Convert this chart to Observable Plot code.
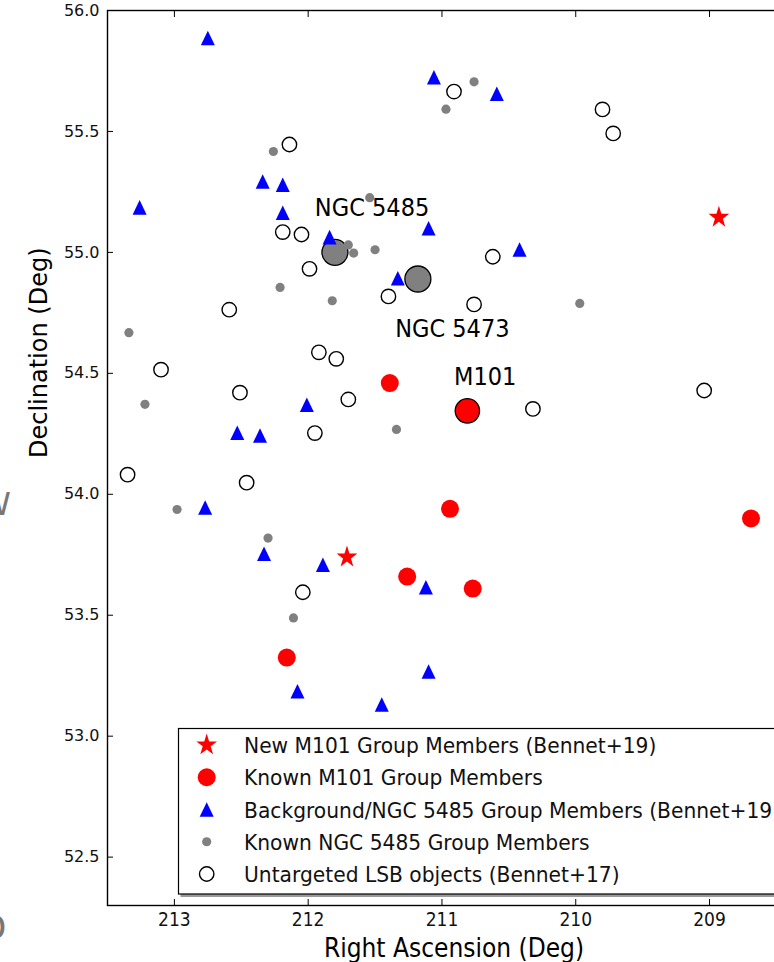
<!DOCTYPE html>
<html><head><meta charset="utf-8">
<script src="https://cdn.jsdelivr.net/npm/d3@7"></script>
<script src="https://cdn.jsdelivr.net/npm/@observablehq/plot@0.6"></script>
<style>
html,body{margin:0;padding:0;background:#fff;overflow:hidden;width:774px;height:962px;}
#wrap{position:relative;width:774px;height:962px;overflow:hidden;}
</style></head><body><div id="wrap"></div>
<script>
// ---- data: [Right Ascension (deg), Declination (deg)] ----
const newM101 = [[208.93, 55.145], [211.71, 53.74]];
const knownM101 = [[211.39, 54.46], [210.94, 53.94], [211.26, 53.66], [210.77, 53.61], [212.16, 53.325], [208.69, 53.90]];
const m101Host = [[210.81, 54.345]];
const ngcHosts = [[211.80, 55.00], [211.18, 54.89]];
const background = [
  [212.75, 55.886], [213.26, 55.186], [212.34, 55.293], [212.19, 55.28], [212.19, 55.164],
  [211.84, 55.063], [211.10, 55.10], [211.06, 55.724], [210.59, 55.656], [210.42, 55.012],
  [211.33, 54.893], [212.01, 54.37], [212.53, 54.254], [212.36, 54.243], [212.77, 53.945],
  [212.33, 53.754], [211.89, 53.709], [211.12, 53.616], [211.10, 53.267], [212.08, 53.186],
  [211.45, 53.131]
];
const knownNGC5485 = [
  [210.76, 55.705], [210.97, 55.592], [212.26, 55.417], [211.54, 55.226], [211.70, 55.031],
  [211.66, 54.997], [211.50, 55.011], [212.21, 54.855], [211.82, 54.80], [209.97, 54.789],
  [213.34, 54.668], [213.22, 54.372], [211.34, 54.268], [212.98, 53.937], [212.30, 53.819],
  [212.11, 53.489]
];
const lsb = [
  [210.91, 55.665], [209.80, 55.591], [209.72, 55.492], [212.14, 55.446], [212.19, 55.084],
  [212.05, 55.074], [211.99, 54.932], [210.62, 54.982], [211.40, 54.818], [210.76, 54.785],
  [212.59, 54.763], [211.92, 54.587], [211.79, 54.56], [213.10, 54.515], [212.51, 54.42],
  [211.70, 54.392], [211.95, 54.253], [213.35, 54.081], [212.46, 54.048], [210.32, 54.353],
  [209.04, 54.429], [212.04, 53.595]
];
const annoText = ["NGC 5485", "NGC 5473", "M101"];
const annoRA = [211.95, 211.35, 210.91];
const annoDec = [55.15, 54.65, 54.45];
const xTicks = [213, 212, 211, 210, 209];
const yTicks = [52.5, 53.0, 53.5, 54.0, 54.5, 55.0, 55.5, 56.0];
const legendLabels = [
  "New M101 Group Members (Bennet+19)",
  "Known M101 Group Members",
  "Background/NGC 5485 Group Members (Bennet+19)",
  "Known NGC 5485 Group Members",
  "Untargeted LSB objects (Bennet+17)"
];

// ---- matplotlib-like marker shapes ----
const mplTriangle = {draw(ctx, size) {
  const h = Math.sqrt(size / Math.PI);
  ctx.moveTo(0, -h * 1.04); ctx.lineTo(h, h * 1.04); ctx.lineTo(-h, h * 1.04); ctx.closePath();
}};
const mplStar = {draw(ctx, size) {
  const R = Math.sqrt(size / Math.PI), r = R * 0.381966;
  for (let i = 0; i < 10; i++) {
    const a = -Math.PI / 2 + i * Math.PI / 5, rr = i % 2 ? r : R;
    const px = rr * Math.cos(a), py = rr * Math.sin(a) * 1.06;
    if (i) ctx.lineTo(px, py); else ctx.moveTo(px, py);
  }
  ctx.closePath();
}};

const X = d => d[0], Y = d => d[1];
const font = "'DejaVu Sans', 'Liberation Sans', sans-serif";
const blank = () => "";

const svg = Plot.plot({
  width: 800, height: 962,
  marginLeft: 107, marginTop: 10, marginBottom: 57, marginRight: 0,
  style: {fontFamily: font, background: "white", color: "#111", maxWidth: "none"},
  x: {domain: [213.5, 208.32], axis: null},
  y: {domain: [52.3, 56.0], axis: null},
  marks: [
    Plot.dot(ngcHosts, {x: X, y: Y, r: 13, fill: "#808080", stroke: "#000", strokeWidth: 1.3}),
    Plot.dot(m101Host, {x: X, y: Y, r: 12.2, fill: "#ff0000", stroke: "#000", strokeWidth: 1.3}),
    Plot.dot(knownM101, {x: X, y: Y, r: 9, fill: "#ff0000"}),
    Plot.dot(background, {x: X, y: Y, r: 7, fill: "#0000ff", symbol: mplTriangle}),
    Plot.dot(knownNGC5485, {x: X, y: Y, r: 4.6, fill: "#808080"}),
    Plot.dot(lsb, {x: X, y: Y, r: 7.2, fill: "none", stroke: "#000", strokeWidth: 1.4}),
    Plot.dot(newM101, {x: X, y: Y, r: 10.9, fill: "#ff0000", symbol: mplStar}),
    Plot.text(annoText, {x: (d, i) => annoRA[i], y: (d, i) => annoDec[i], text: d => d,
      textAnchor: "start", lineAnchor: "bottom", fontSize: 25, fill: "#000"}),
    Plot.frame({stroke: "#000", strokeWidth: 1.4}),
    Plot.axisX(xTicks, {anchor: "bottom", tickSize: -6, tickFormat: blank, label: null, stroke: "#000"}),
    Plot.axisX(xTicks, {anchor: "top", tickSize: -6, tickFormat: blank, label: null, stroke: "#000"}),
    Plot.axisX(xTicks, {anchor: "bottom", tickSize: 0, tickPadding: 7, fontSize: 19, label: null,
      tickFormat: d3.format("d"), fill: "#111"}),
    Plot.axisY(yTicks, {anchor: "left", tickSize: -6, tickFormat: blank, label: null, stroke: "#000"}),
    Plot.axisY(yTicks, {anchor: "left", tickSize: 0, tickPadding: 8, fontSize: 16, label: null,
      tickFormat: d3.format(".1f"), fill: "#111"}),
    Plot.text(["Right Ascension (Deg)"], {text: d => d, frameAnchor: "bottom", dy: 51.7,
      lineAnchor: "bottom", fontSize: 26, fill: "#000"}),
    Plot.text(["Declination (Deg)"], {text: d => d, frameAnchor: "left", rotate: -90, dx: -60.5,
      lineAnchor: "bottom", fontSize: 24, fill: "#000"})
  ]
});
document.getElementById("wrap").appendChild(svg);

const s = d3.select(svg);
function condense(sel, f) {
  sel.each(function () {
    const w = this.getComputedTextLength();
    if (!w) return;
    this.setAttribute("textLength", (w * f).toFixed(2));
    this.setAttribute("lengthAdjust", "spacingAndGlyphs");
  });
}
// horizontal texts look slightly condensed in the reference
s.selectAll("text").filter(function () {
  const t = this.getAttribute("transform") || "";
  const g = this.closest("g");
  const lab = g ? (g.getAttribute("aria-label") || "") : "";
  return !t.includes("rotate") && lab !== "y-axis tick label";
}).call(condense, 0.9);

// legend (lower right, with shadow)
const lg = s.append("g").attr("font-family", font).attr("text-anchor", "start");
lg.append("rect").attr("x", 180.5).attr("y", 731.5).attr("width", 620).attr("height", 165.5).attr("fill", "#9a9a9a");
lg.append("rect").attr("x", 178.5).attr("y", 728.5).attr("width", 620).attr("height", 165.5)
  .attr("fill", "#fff").attr("stroke", "#000").attr("stroke-width", 1.2);
const legendStyles = [
  {type: mplStar, r: 10.9, fill: "#ff0000", stroke: "none"},
  {type: d3.symbolCircle, r: 9, fill: "#ff0000", stroke: "none"},
  {type: mplTriangle, r: 7, fill: "#0000ff", stroke: "none"},
  {type: d3.symbolCircle, r: 4.6, fill: "#808080", stroke: "none"},
  {type: d3.symbolCircle, r: 7.2, fill: "none", stroke: "#000"}
];
legendLabels.forEach((lab, i) => {
  const cy = 745 + i * 32.25, st = legendStyles[i];
  lg.append("path").attr("transform", `translate(206.7,${cy})`)
    .attr("d", d3.symbol(st.type, Math.PI * st.r * st.r)())
    .attr("fill", st.fill).attr("stroke", st.stroke).attr("stroke-width", 1.4);
  lg.append("text").attr("x", 244).attr("y", cy + 8).attr("text-anchor", "start")
    .attr("font-size", 22).attr("fill", "#111").text(lab);
});
condense(lg.selectAll("text"), 0.92);

// fragments of neighbouring panel text visible at the left edge
s.append("text").attr("x", 11).attr("y", 515).attr("text-anchor", "end").attr("font-size", 32)
  .attr("font-family", font).attr("fill", "#777").text("W");
s.append("text").attr("x", 6.5).attr("y", 940).attr("text-anchor", "end").attr("font-size", 36)
  .attr("font-family", font).attr("fill", "#777").text("D");
</script></body></html>
